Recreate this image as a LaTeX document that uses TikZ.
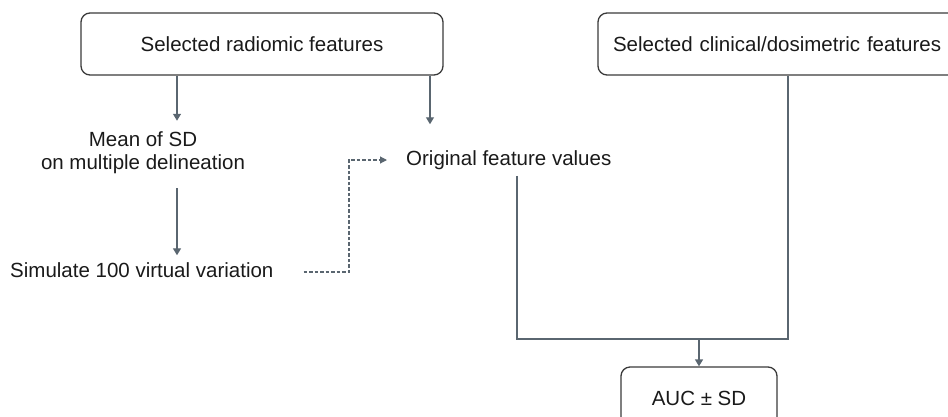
\documentclass[tikz,border=0pt]{standalone}
\usepackage{fontspec}
\setmainfont{Liberation Sans}
\usetikzlibrary{arrows.meta,calc}
\definecolor{linkgray}{HTML}{5A6670}
\definecolor{boxgray}{HTML}{3A3A3A}
\definecolor{txt}{HTML}{1A1A1A}
\begin{document}
\begin{tikzpicture}[x=1pt,y=-1pt,
  every node/.style={font=\fontsize{20.5}{23}\selectfont, text=txt, inner sep=0pt},
  framebox/.style={draw=boxgray, line width=1.3pt, rounded corners=9pt, minimum height=62pt},
  link/.style={draw=linkgray, line width=1.4pt},
  arr/.style={link, -{Triangle[length=7pt,width=8pt]}},
  dashlink/.style={draw=linkgray, line width=1.1pt, dash pattern=on 3.5pt off 2pt, -{Triangle[length=7pt,width=7pt]}}]
  \clip (0,0) rectangle (948,416);
  % reference columns for the vertical connectors
  \coordinate (colA) at (177,0);
  \coordinate (colB) at (430,0);
  \coordinate (colC) at (517,0);
  \coordinate (colD) at (788,0);
  \coordinate (colE) at (699,0);
  \coordinate (rowM) at (0,339);
  % nodes
  \node[framebox, minimum width=362pt] (box1) at (262,44) {Selected radiomic features};
  \node[framebox, minimum width=362pt, text width=340pt, align=left] (box2) at (779,44) {\hspace*{4pt}Selected clinical/dosimetric features};
  \node[align=center] (mean) at (143,153) {Mean of SD\\on multiple delineation};
  \node[anchor=west] (orig) at (406,160) {Original feature values};
  \node[anchor=west] (sim) at (10,270) {Simulate 100 virtual variation};
  \node[framebox, minimum width=156pt] (auc) at (699,398) {AUC ± SD};
  % connectors
  \draw[arr] (box1.south -| colA) -- ($(colA |- mean.north)+(0,-11)$);
  \draw[arr] (box1.south -| colB) -- ($(colB |- orig.north)+(0,-26)$);
  \draw[arr] ($(mean.south -| colA)+(0,14)$) -- ($(colA |- sim.north)+(0,-7)$);
  \draw[dashlink] ($(sim.east)+(30,2)$) -| ($(orig.west)+(-57,0)$) -- ($(orig.west)+(-19,0)$);
  \draw[link] ($(orig.south -| colC)+(0,6)$) |- (rowM -| colD) -- (box2.south -| colD);
  \draw[arr] (rowM -| colE) -- (auc.north);
\end{tikzpicture}
\end{document}
